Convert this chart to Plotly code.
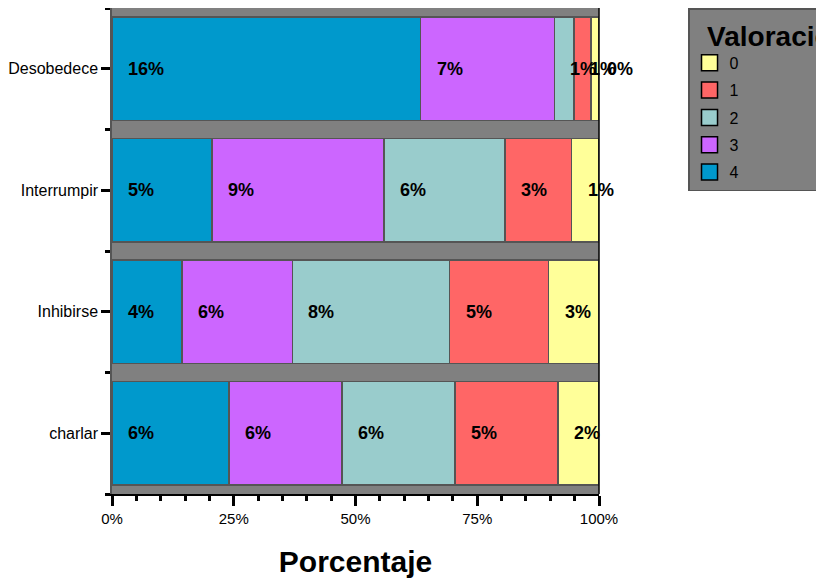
import plotly.graph_objects as go

# ---- data (bottom to top) ----
categories = ["charlar", "Inhibirse", "Interrumpir", "Desobedece"]
series_names = ["4", "3", "2", "1", "0"]          # stacking order, left to right
val_4 = [6.0, 3.6, 5.1, 15.9]
val_3 = [5.8, 5.7, 8.8, 6.9]
val_2 = [5.8, 8.1, 6.2, 1.0]
val_1 = [5.3, 5.1, 3.4, 0.9]
val_0 = [2.1, 2.6, 1.4, 0.4]
x_tick_vals = [0, 25, 50, 75, 100]
x_tick_text = ["0%", "25%", "50%", "75%", "100%"]

series_values = [val_4, val_3, val_2, val_1, val_0]
colors = {"4": "#0099CC", "3": "#CC66FF", "2": "#99CCCC", "1": "#FF6666", "0": "#FFFF99"}
FONT = "Liberation Sans, Arial, sans-serif"
ypos = list(range(len(categories)))

fig = go.Figure()
row_sums = [sum(s[i] for s in series_values) for i in ypos]

for name, vals in zip(series_names, series_values):
    fig.add_trace(go.Bar(
        y=ypos, x=vals, orientation="h", name=name, width=0.85,
        marker=dict(color=colors[name], line=dict(color="#555555", width=1.5)),
        showlegend=False, hoverinfo="skip",
    ))

# legend entries (0..4 top to bottom)
for name in ["0", "1", "2", "3", "4"]:
    fig.add_trace(go.Scatter(
        x=[None], y=[None], mode="markers", name=name, legendgroup=name,
        marker=dict(symbol="square", size=16, color=colors[name],
                    line=dict(color="black", width=1.5)),
    ))

# value labels at the start of each segment
annotations = []
for i in ypos:
    cum = 0.0
    for name, vals in zip(series_names, series_values):
        start = cum / row_sums[i] * 100
        annotations.append(dict(
            x=start, y=i, xref="x", yref="y", text=f"{round(vals[i])}%",
            showarrow=False, xanchor="left", yanchor="middle", xshift=14,
            font=dict(family=FONT, size=18, color="black", weight="bold"),
        ))
        cum += vals[i]

fig.update_layout(
    width=824, height=585,
    barmode="stack", barnorm="percent",
    plot_bgcolor="#808080", paper_bgcolor="white",
    margin=dict(l=104, r=233, t=0, b=99, autoexpand=False),
    font=dict(family=FONT, color="black"),
    annotations=annotations,
    showlegend=True,
    legend=dict(
        x=1.1828, y=1.0, xanchor="left", yanchor="top",
        bgcolor="#808080", bordercolor="#555555", borderwidth=1.5,
        font=dict(family=FONT, size=16, color="black"),
        title=dict(text="&nbsp;&nbsp;Valoración", font=dict(family=FONT, size=28, color="black", weight="bold")),
        tracegroupgap=3.5, traceorder="grouped",
    ),
    shapes=[dict(type="line", xref="paper", yref="paper", x0=1, x1=1, y0=0, y1=1,
                 line=dict(color="black", width=1.5))],
)

fig.update_xaxes(
    range=[0, 100], tickvals=x_tick_vals, ticktext=x_tick_text,
    showgrid=False, zeroline=False,
    showline=True, linecolor="black", linewidth=1.5, mirror=True,
    ticks="outside", ticklen=10, tickwidth=3, tickcolor="black",
    tickfont=dict(family=FONT, size=15, color="black"),
    minor=dict(dtick=5, tick0=0, ticks="outside", ticklen=5, tickwidth=2.5, tickcolor="black", showgrid=False),
    title=dict(text="Porcentaje", font=dict(family=FONT, size=30, color="black", weight="bold"), standoff=25),
    fixedrange=True,
)
fig.update_yaxes(
    range=[-0.5, len(categories) - 0.5], tickvals=ypos, ticktext=categories,
    showgrid=False, zeroline=False,
    showline=True, linecolor="#555555", linewidth=1.5,
    ticks="outside", ticklen=9, tickwidth=3, tickcolor="black",
    tickfont=dict(family=FONT, size=16, color="black"),
    minor=dict(dtick=1, tick0=0.5, ticks="outside", ticklen=5, tickwidth=3, tickcolor="black", showgrid=False),
    fixedrange=True,
)

fig.write_html("out.html")
